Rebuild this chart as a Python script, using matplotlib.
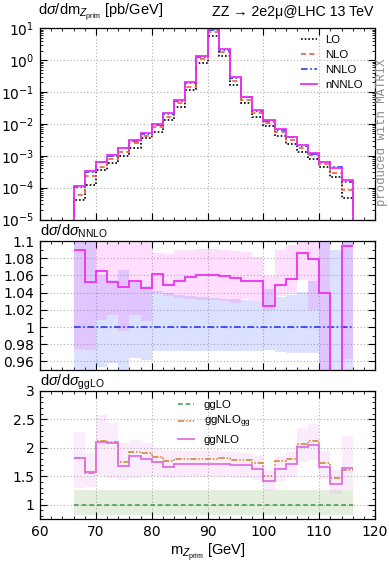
import numpy as np
import matplotlib
matplotlib.use('Agg')
import matplotlib.pyplot as plt
from matplotlib.lines import Line2D
from matplotlib.ticker import MultipleLocator, LogLocator, FuncFormatter, NullFormatter, LogFormatterMathtext

plt.rcParams['font.family'] = ['Liberation Sans', 'DejaVu Sans']
plt.rcParams['mathtext.fontset'] = 'custom'
plt.rcParams['mathtext.rm'] = 'Liberation Sans'
plt.rcParams['mathtext.it'] = 'Liberation Sans:italic'
plt.rcParams['mathtext.bf'] = 'Liberation Sans:bold'

# ---------------- data ----------------
bin_edges = [66, 68, 70, 72, 74, 76, 78, 80, 82, 84, 86, 88, 90, 92, 94, 96, 98,
             100, 102, 104, 106, 108, 110, 112, 114, 116]

# top panel: dsigma/dm [pb/GeV]
xs_LO = [4.15e-5, 1.22e-4, 3.61e-4, 5.86e-4, 9.93e-4, 1.73e-3, 3.56e-3, 5.74e-3, 0.0133,
         0.0334, 0.116, 0.835, 5.86, 1.38, 0.167, 0.0446, 0.0169, 8.35e-3, 4.2e-3,
         2.36e-3, 1.30e-3, 7.82e-4, 4.4e-4, 2.13e-4, 4.9e-5]
xs_NLO = [5.9e-5, 2.34e-4, 4.58e-4, 8.0e-4, 1.35e-3, 2.48e-3, 4.2e-3, 7.9e-3, 0.0169,
          0.0446, 0.148, 1.07, 7.5, 1.77, 0.228, 0.0565, 0.0226, 0.0105, 5.5e-3,
          3.15e-3, 1.73e-3, 1.07e-3, 5.57e-4, 2.85e-4, 8.5e-5]
xs_NNLO = [1.065e-4, 3.19e-4, 6.18e-4, 1.017e-3, 1.73e-3, 2.99e-3, 4.89e-3, 9.42e-3, 0.0206,
           0.0536, 0.192, 1.30, 8.86, 2.115, 0.275, 0.0681, 0.0261, 0.01275, 6.50e-3,
           3.79e-3, 2.03e-3, 1.17e-3, 6.33e-4, 4.39e-4, 1.545e-4]
xs_nNNLO = [1.16e-4, 3.36e-4, 6.58e-4, 1.07e-3, 1.81e-3, 3.15e-3, 5.11e-3, 1.0e-2, 0.0216,
            0.0565, 0.203, 1.38, 9.4, 2.24, 0.291, 0.0718, 0.0275, 0.01306, 6.82e-3,
            4.0e-3, 2.2e-3, 1.26e-3, 6.58e-4, 4.08e-4, 1.69e-4]

# middle panel: ratio to NNLO
ratio_NNLO = [1.0] * 25
ratio_nNNLO = [1.089, 1.052, 1.065, 1.052, 1.047, 1.054, 1.045, 1.062, 1.049, 1.054, 1.058,
               1.060, 1.061, 1.059, 1.057, 1.054, 1.053, 1.024, 1.049, 1.056, 1.086, 1.079,
               1.039, 0.93, 1.094]
nNNLO_band_hi = [1.12, 1.12, 1.12, 1.12, 1.12, 1.12, 1.12, 1.086, 1.085, 1.089, 1.090, 1.091,
                 1.091, 1.090, 1.088, 1.087, 1.081, 1.059, 1.09, 1.095, 1.10, 1.12, 1.12, 0.94, 1.12]
nNNLO_band_lo = [0.975, 0.973, 1.008, 1.014, 0.995, 1.014, 1.007, 1.040, 1.036, 1.034, 1.032,
                 1.031, 1.031, 1.030, 1.028, 1.032, 1.030, 1.020, 1.036, 1.038, 1.055, 1.020,
                 0.93, 0.90, 0.963]
NNLO_band_hi = [1.12, 1.12, 1.060, 1.055, 1.066, 1.052, 1.048, 1.042, 1.040, 1.037, 1.036,
                1.035, 1.034, 1.033, 1.032, 1.031, 1.030, 1.044, 1.035, 1.037, 1.041, 1.054,
                1.12, 1.09, 1.12]
NNLO_band_lo = [0.93, 0.93, 0.954, 0.958, 0.93, 0.964, 0.962, 0.972, 0.972, 0.972, 0.972,
                0.972, 0.972, 0.972, 0.972, 0.972, 0.972, 0.973, 0.971, 0.970, 0.970, 0.970,
                0.93, 0.93, 0.93]

# bottom panel: ratio to ggLO
ggNLO = [1.82, 1.58, 2.11, 2.08, 1.68, 1.85, 1.81, 1.75, 1.66, 1.71, 1.71, 1.72, 1.72, 1.72,
         1.69, 1.69, 1.62, 1.42, 1.63, 1.72, 2.02, 2.04, 1.67, 1.37, 1.64]
ggNLO_gg = [1.82, 1.56, 2.12, 2.10, 1.75, 1.93, 1.90, 1.83, 1.76, 1.81, 1.81, 1.81, 1.81, 1.82,
            1.79, 1.78, 1.73, 1.50, 1.76, 1.80, 2.07, 2.12, 1.73, 1.46, 1.60]
ggNLO_band_hi = [2.27, 1.90, 2.57, 2.43, 2.08, 2.14, 2.08, 2.00, 1.95, 1.94, 1.94, 1.94, 1.94,
                 1.93, 1.92, 1.91, 1.85, 1.60, 1.85, 1.93, 2.35, 2.42, 1.95, 1.60, 2.20]
ggNLO_band_lo = [1.30, 1.31, 1.50, 1.47, 1.44, 1.46, 1.50, 1.50, 1.46, 1.48, 1.49, 1.49, 1.49,
                 1.48, 1.47, 1.46, 1.43, 1.23, 1.42, 1.48, 1.75, 1.78, 1.45, 1.18, 1.25]
ggLO = [1.0] * 25
ggLO_band_hi = [1.25] * 25
ggLO_band_lo = [0.82] * 25

# ---------------- styling ----------------
W, H = 389, 564
fig = plt.figure(figsize=(W / 100, H / 100), dpi=100)

def axes_px(top, bottom, left=40, right=375):
    return fig.add_axes([left / W, 1 - bottom / H, (right - left) / W, (bottom - top) / H])

ax1 = axes_px(28.3, 219.5)
ax2 = axes_px(241, 370)
ax3 = axes_px(391, 519.3)

FS = 10.5    # titles
LFS = 8.2    # legends
TFS = 10     # tick labels
c_LO = 'black'
c_NLO = '#f05a46'
c_NNLO = '#2a3cf0'
c_nNNLO = '#f030f0'
grid_kw = dict(color='#b0b0b0', linestyle=(0, (1, 2)), linewidth=0.8)
ls_LO = (0, (1, 1.2))
ls_NLO = (0, (3, 2))
ls_NNLO = (0, (4, 1.5, 1, 1.5))

for ax in (ax1, ax2, ax3):
    ax.set_xlim(60, 120)
    ax.xaxis.set_major_locator(MultipleLocator(10))
    ax.xaxis.set_minor_locator(MultipleLocator(2))
    ax.tick_params(which='both', direction='in', top=True, right=True, labelsize=TFS,
                   labelfontfamily='DejaVu Sans')
    ax.tick_params(which='major', length=5, width=0.8, pad=4)
    ax.tick_params(which='minor', length=2.5, width=0.6)
    ax.grid(True, which='major', **grid_kw)
    ax.set_axisbelow(True)
    for s in ax.spines.values():
        s.set_linewidth(0.9)

edges = np.array(bin_edges, dtype=float)

# ---- top panel ----
ax1.set_yscale('log')
ax1.set_ylim(1e-5, 10)
ax1.yaxis.set_major_locator(LogLocator(base=10, numticks=10))
ax1.yaxis.set_minor_locator(LogLocator(base=10, subs=np.arange(2, 10), numticks=100))
ax1.yaxis.set_major_formatter(LogFormatterMathtext())
ax1.yaxis.set_minor_formatter(NullFormatter())
ax1.xaxis.set_major_formatter(NullFormatter())
ax1.stairs(np.array(xs_NNLO) * np.array(nNNLO_band_hi), edges,
           baseline=np.array(xs_NNLO) * np.array(nNNLO_band_lo), fill=True,
           color=c_nNNLO, alpha=0.18, lw=0)
ax1.stairs(xs_LO, edges, baseline=1e-7, color=c_LO, lw=1.2, linestyle=ls_LO)
ax1.stairs(xs_NLO, edges, baseline=1e-7, color=c_NLO, lw=1.2, linestyle=ls_NLO)
ax1.stairs(xs_NNLO, edges, baseline=1e-7, color=c_NNLO, lw=1.2, linestyle=ls_NNLO)
ax1.stairs(xs_nNNLO, edges, baseline=1e-7, color=c_nNNLO, lw=1.3)

handles = [Line2D([], [], color=c_LO, lw=1.2, linestyle=ls_LO),
           Line2D([], [], color=c_NLO, lw=1.2, linestyle=ls_NLO),
           Line2D([], [], color=c_NNLO, lw=1.2, linestyle=ls_NNLO),
           Line2D([], [], color=c_nNNLO, lw=1.3)]
ax1.legend(handles, ['LO', 'NLO', 'NNLO', 'nNNLO'], loc='upper left',
           bbox_to_anchor=(301 / W, 1 - 35 / H), bbox_transform=fig.transFigure,
           frameon=False, fontsize=LFS, handlelength=1.4, handletextpad=0.7,
           labelspacing=0.45, borderpad=0, borderaxespad=0)

# ---- middle panel ----
ax2.set_ylim(0.95, 1.1)
ax2.yaxis.set_major_locator(MultipleLocator(0.02))
ax2.yaxis.set_minor_locator(MultipleLocator(0.01))
ax2.yaxis.set_major_formatter(FuncFormatter(lambda v, p: '%g' % round(v, 3)))
ax2.xaxis.set_major_formatter(NullFormatter())
ax2.stairs(NNLO_band_hi, edges, baseline=NNLO_band_lo, fill=True, color='#3050ff', alpha=0.17, lw=0)
ax2.stairs(nNNLO_band_hi, edges, baseline=nNNLO_band_lo, fill=True, color='#ff40ff', alpha=0.17, lw=0)
ax2.stairs(ratio_NNLO, edges, baseline=None, color=c_NNLO, lw=1.2, linestyle=ls_NNLO)
ax2.stairs(ratio_nNNLO, edges, baseline=None, color=c_nNNLO, lw=1.3)

# ---- bottom panel ----
c_ggLO = '#3c9a3c'
c_ggNLOgg = '#c8822a'
c_ggNLO = '#e070e0'
ls_ggLO = (0, (3, 2))
ls_ggNLOgg = (0, (4, 1.2, 1, 1.2, 1, 1.2))
ax3.set_ylim(0.74, 3)
ax3.yaxis.set_major_locator(MultipleLocator(0.5))
ax3.yaxis.set_minor_locator(MultipleLocator(0.1))
ax3.yaxis.set_major_formatter(FuncFormatter(lambda v, p: '%g' % round(v, 3)))
ax3.stairs(ggLO_band_hi, edges, baseline=ggLO_band_lo, fill=True, color='#5a9a3a', alpha=0.16, lw=0)
ax3.stairs(ggNLO_band_hi, edges, baseline=ggNLO_band_lo, fill=True, color='#e070e0', alpha=0.13, lw=0)
ax3.stairs(ggLO, edges, baseline=None, color=c_ggLO, lw=1.1, linestyle=ls_ggLO)
ax3.stairs(ggNLO_gg, edges, baseline=None, color=c_ggNLOgg, lw=1.1, linestyle=ls_ggNLOgg)
ax3.stairs(ggNLO, edges, baseline=None, color=c_ggNLO, lw=1.3)
h3 = [Line2D([], [], color=c_ggLO, lw=1.1, linestyle=ls_ggLO),
      Line2D([], [], color=c_ggNLOgg, lw=1.1, linestyle=ls_ggNLOgg),
      Line2D([], [], color=c_ggNLO, lw=1.3)]
ax3.legend(h3, ['ggLO', r'ggNLO$_{\mathrm{gg}}$', 'ggNLO'], loc='upper left',
           bbox_to_anchor=(178 / W, 1 - 399.5 / H), bbox_transform=fig.transFigure,
           frameon=False, fontsize=LFS, handlelength=1.4, handletextpad=0.85,
           labelspacing=0.4, borderpad=0, borderaxespad=0)

# ---- texts ----
def ftext(x, y, s, **kw):
    fig.text(x / W, 1 - y / H, s, **kw)

ftext(38, 12, r'd$\sigma$/dm$_{Z_{\mathrm{prim}}}$ [pb/GeV]', fontsize=FS, ha='left', va='center')
ftext(373, 12, 'ZZ → 2e2μ@LHC 13 TeV', fontsize=10.2, ha='right', va='center')
ftext(40, 231, r'd$\sigma$/d$\sigma_{\mathrm{NNLO}}$', fontsize=FS, ha='left', va='center')
ftext(40, 382, r'd$\sigma$/d$\sigma_{\mathrm{ggLO}}$', fontsize=FS, ha='left', va='center')
ftext(207.5, 552, r'm$_{Z_{\mathrm{prim}}}$ [GeV]', fontsize=FS, ha='center', va='center')
ftext(382, 132, 'produced with MATRIX', fontsize=8.8, family='Liberation Mono',
      color='#8a8a8a', rotation=90, ha='center', va='center')

fig.savefig('out.png', dpi=100)
